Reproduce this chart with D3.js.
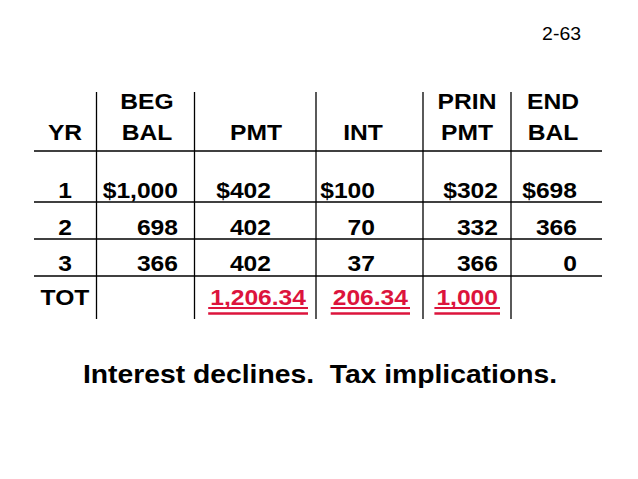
<!DOCTYPE html>
<meta charset="utf-8">
<style>
    body { margin: 0; background: #fff; }
    text { font-family: "Liberation Sans", Arial, sans-serif; }
</style>
<svg width="638" height="479"></svg>
<script src="https://d3js.org/d3.v7.min.js"></script>
<script>
    // table data
    var columns = ["yr", "beg", "pmt", "int", "prin", "end"];
    var headerTop = ["", "BEG", "", "", "PRIN", "END"];
    var headerBottom = ["YR", "BAL", "PMT", "INT", "PMT", "BAL"];
    var years = ["1", "2", "3"];
    var begBal = ["$1,000", "698", "366"];
    var pmt = ["$402", "402", "402"];
    var interest = ["$100", "70", "37"];
    var prinPmt = ["$302", "332", "366"];
    var endBal = ["$698", "366", "0"];
    var totals = ["TOT", "", "1,206.34", "206.34", "1,000", ""];

    var svg = d3.select("svg");
    var red = "#dc143c";
    var sx = 1.08;   // slide text is a bit wide

    var rows = years.map(function (y, i) {
        return [y, begBal[i], pmt[i], interest[i], prinPmt[i], endBal[i]];
    });

    // column positions: header centres, value right edges, total right edges
    var headX = d3.scaleOrdinal().domain(columns).range([65, 147, 256, 363, 467, 553]);
    var valX = d3.scaleOrdinal().domain(columns).range([65, 178, 271, 375, 498, 577]);
    var totX = d3.scaleOrdinal().domain(columns).range([65, 178, 306, 408, 498, 577]);
    var rowY = d3.scaleOrdinal().domain([0, 1, 2, 3]).range([198, 235, 271, 305]);

    var fs = 22.8;

    function place(x, y) {
        return "translate(" + x + "," + y + ") scale(" + sx + ",1)";
    }

    // page number
    svg.append("text")
        .attr("transform", place(581, 40))
        .attr("text-anchor", "end")
        .attr("font-size", 18)
        .text("2-63");

    // grid lines
    var vLines = [96.5, 194.5, 316, 423, 511];
    svg.append("g").selectAll("line")
        .data(vLines)
        .enter()
        .append("line")
        .attr("x1", function (d) { return d; })
        .attr("x2", function (d) { return d; })
        .attr("y1", 92)
        .attr("y2", 319)
        .attr("stroke", "#000")
        .attr("stroke-width", 1.3);

    var hLines = [151, 202, 239, 276];
    svg.append("g").selectAll("line")
        .data(hLines)
        .enter()
        .append("line")
        .attr("x1", 34)
        .attr("x2", 602)
        .attr("y1", function (d) { return d; })
        .attr("y2", function (d) { return d; })
        .attr("stroke", "#000")
        .attr("stroke-width", 1.3);

    // headers
    var head = svg.append("g")
        .attr("font-size", fs)
        .attr("font-weight", "bold")
        .attr("text-anchor", "middle");
    head.selectAll(".h1")
        .data(columns)
        .enter()
        .append("text")
        .attr("class", "h1")
        .attr("transform", function (d) { return place(headX(d), 109); })
        .text(function (d, i) { return headerTop[i]; });
    head.selectAll(".h2")
        .data(columns)
        .enter()
        .append("text")
        .attr("class", "h2")
        .attr("transform", function (d) { return place(headX(d), 140); })
        .text(function (d, i) { return headerBottom[i]; });

    // body rows
    var body = svg.append("g")
        .attr("font-size", fs)
        .attr("font-weight", "bold");
    rows.forEach(function (r, ri) {
        body.append("g").selectAll("text")
            .data(r)
            .enter()
            .append("text")
            .attr("transform", function (d, i) { return place(valX(columns[i]), rowY(ri)); })
            .attr("text-anchor", function (d, i) { return i === 0 ? "middle" : "end"; })
            .text(function (d) { return d; });
    });

    // totals row, red with double underline
    var tot = body.append("g");
    tot.selectAll("text")
        .data(totals)
        .enter()
        .append("text")
        .attr("transform", function (d, i) { return place(totX(columns[i]), rowY(3)); })
        .attr("text-anchor", function (d, i) { return i === 0 ? "middle" : "end"; })
        .attr("fill", function (d, i) { return i === 0 ? "#000" : red; })
        .text(function (d) { return d; })
        .each(function (d, i) {
            if (i === 0 || d === "") return;
            var w = this.getComputedTextLength() * sx;
            var x1 = totX(columns[i]) - w - 2, x2 = totX(columns[i]) + 2;
            [[308, 2], [313.5, 2.5]].forEach(function (u) {
                tot.append("line")
                    .attr("x1", x1).attr("x2", x2)
                    .attr("y1", u[0]).attr("y2", u[0])
                    .attr("stroke", red)
                    .attr("stroke-width", u[1]);
            });
        });

    // caption
    svg.append("text")
        .attr("transform", place(320, 383))
        .attr("text-anchor", "middle")
        .attr("font-size", 26.2)
        .attr("font-weight", "bold")
        .style("white-space", "pre")
        .text("Interest declines.  Tax implications.");
</script>
